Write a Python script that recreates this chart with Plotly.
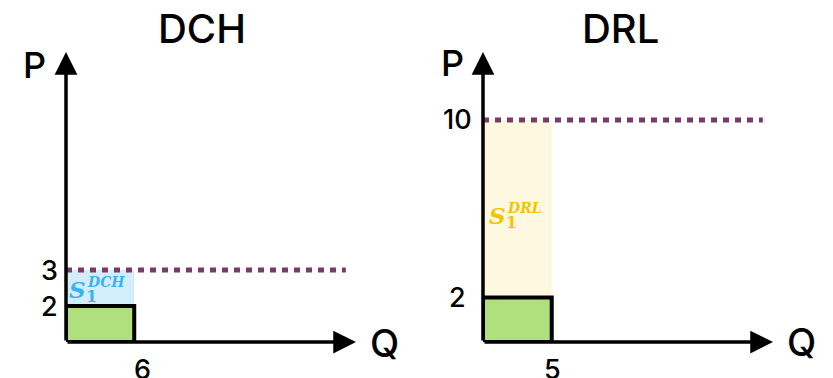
import plotly.graph_objects as go

# Market panels: quantity sold at the low price and the two price levels
markets = ["DCH", "DRL"]
quantities = [6, 5]
price_low = [2, 2]
price_high = [3, 10]
supply_labels = ["DCH", "DRL"]
highlight_fills = ["#d4edfd", "#fff8e1"]
label_colors = ["#38b3f2", "#f3c300"]

W, H = 833, 378
FONT = "Inter"
LABEL_FONT = "DejaVu Serif"


def px(x):
    return x / W


def py(y):
    return 1 - y / H


# pixel frames of the two panels (left edge of y axis, right end of x axis)
frames = [(66, 356), (483, 773)]
x_top = [25.5, 21.1]
y_dom = [py(342), py(52)]

fig = go.Figure()
layout = dict(
    width=W, height=H, margin=dict(l=0, r=0, t=0, b=0),
    paper_bgcolor="white", plot_bgcolor="white", showlegend=False,
)
shapes, annotations = [], []

title_x = [202, 620]
p_label = [(34, 65), (452, 63)]
q_label = [(384, 343), (801, 342)]
ytick_shift = [-17, -26]
xtick_shift = [8, 1]
s_pos = [(77, 289), (497, 215)]

for i, name in enumerate(markets):
    xa = "xaxis" if i == 0 else f"xaxis{i + 1}"
    ya = "yaxis" if i == 0 else f"yaxis{i + 1}"
    xr = "x" if i == 0 else f"x{i + 1}"
    yr = "y" if i == 0 else f"y{i + 1}"
    x0, x1 = frames[i]
    q, lo, hi = quantities[i], price_low[i], price_high[i]
    layout[xa] = dict(domain=[px(x0), px(x1)], range=[0, x_top[i]], visible=False,
                      anchor=yr, fixedrange=True)
    if i == 0:
        # schematic price axis: the marked price levels are evenly spaced categories
        levels = [str(v) for v in (0, lo, hi)]
        layout[ya] = dict(domain=y_dom, type="category",
                          categoryorder="array", categoryarray=levels,
                          range=[0, 8.06], visible=False, anchor=xr, fixedrange=True)
        yv = lambda v, lv=levels: lv.index(str(v))
        trace_y = levels
    else:
        layout[ya] = dict(domain=y_dom, range=[0, 13.06], visible=False,
                          anchor=xr, fixedrange=True)
        yv = lambda v: v
        trace_y = [0, lo, hi]
    # invisible trace so the axis pair (and its categories) exists
    fig.add_trace(go.Scatter(x=[0] * len(trace_y), y=trace_y, xaxis=xr, yaxis=yr,
                             mode="markers", marker=dict(opacity=0), hoverinfo="skip"))

    # shaded band between the two prices
    shapes.append(dict(type="rect", xref=xr, yref=yr, x0=0, x1=q, y0=yv(lo), y1=yv(hi),
                       fillcolor=highlight_fills[i], line=dict(width=0), layer="below"))
    # revenue box at the low price
    shapes.append(dict(type="rect", xref=xr, yref=yr, x0=0, x1=q, y0=yv(0), y1=yv(lo),
                       fillcolor="#b0e07e", line=dict(color="black", width=4)))
    # dotted high-price line
    shapes.append(dict(type="line", xref=f"{xr} domain", yref=yr, x0=0, x1=0.965,
                       y0=yv(hi), y1=yv(hi),
                       line=dict(color="#7a3a68", width=5, dash="6px,6px")))

    # axis arrows
    for (tx, ty) in [(1, 0), (0, 1)]:
        annotations.append(dict(
            xref=f"{xr} domain", yref=f"{yr} domain", x=tx, y=ty,
            axref=f"{xr} domain", ayref=f"{yr} domain", ax=0, ay=0,
            text="", showarrow=True, arrowhead=2, arrowwidth=3.5, arrowsize=1.3,
            arrowcolor="black", standoff=0, startstandoff=0))

    # tick labels
    for v in (lo, hi):
        annotations.append(dict(xref=xr, yref=yr, x=0, y=yv(v), text=str(v), showarrow=False,
                                xanchor="center", yanchor="middle", xshift=ytick_shift[i],
                                font=dict(family=FONT, size=27, color="black", weight=500)))
    annotations.append(dict(xref=xr, yref=yr, x=q, y=yv(0), text=str(q), showarrow=False,
                            xanchor="center", yanchor="top", xshift=xtick_shift[i], yshift=-9,
                            font=dict(family=FONT, size=27, color="black", weight=500)))

    # titles and axis names
    annotations.append(dict(xref="paper", yref="paper", x=px(title_x[i]), y=py(28),
                            text=name, showarrow=False, xanchor="center", yanchor="middle",
                            font=dict(family=FONT, size=40, color="black", weight=500)))
    annotations.append(dict(xref="paper", yref="paper", x=px(p_label[i][0]), y=py(p_label[i][1]),
                            text="P", showarrow=False, xanchor="center", yanchor="middle",
                            font=dict(family=FONT, size=36, color="black", weight=500)))
    annotations.append(dict(xref="paper", yref="paper", x=px(q_label[i][0]), y=py(q_label[i][1]),
                            text="Q", showarrow=False, xanchor="center", yanchor="middle",
                            font=dict(family=FONT, size=38, color="black", weight=500)))

    # supply label S_1^market
    sx, sy = s_pos[i]
    col = label_colors[i]
    annotations.append(dict(xref="paper", yref="paper", x=px(sx), y=py(sy), text="<b><i>S</i></b>",
                            showarrow=False, xanchor="center", yanchor="middle",
                            font=dict(family=LABEL_FONT, size=23, color=col)))
    annotations.append(dict(xref="paper", yref="paper", x=px(sx + 8), y=py(sy - 7),
                            text=f"<b><i>{supply_labels[i]}</i></b>",
                            showarrow=False, xanchor="left", yanchor="middle",
                            font=dict(family=LABEL_FONT, size=14, color=col)))
    annotations.append(dict(xref="paper", yref="paper", x=px(sx + 14), y=py(sy + 7),
                            text="<b>1</b>", showarrow=False, xanchor="center", yanchor="middle",
                            font=dict(family=LABEL_FONT, size=16, color=col)))

layout["shapes"] = shapes
layout["annotations"] = annotations
fig.update_layout(**layout)
fig.write_html("out.html")
